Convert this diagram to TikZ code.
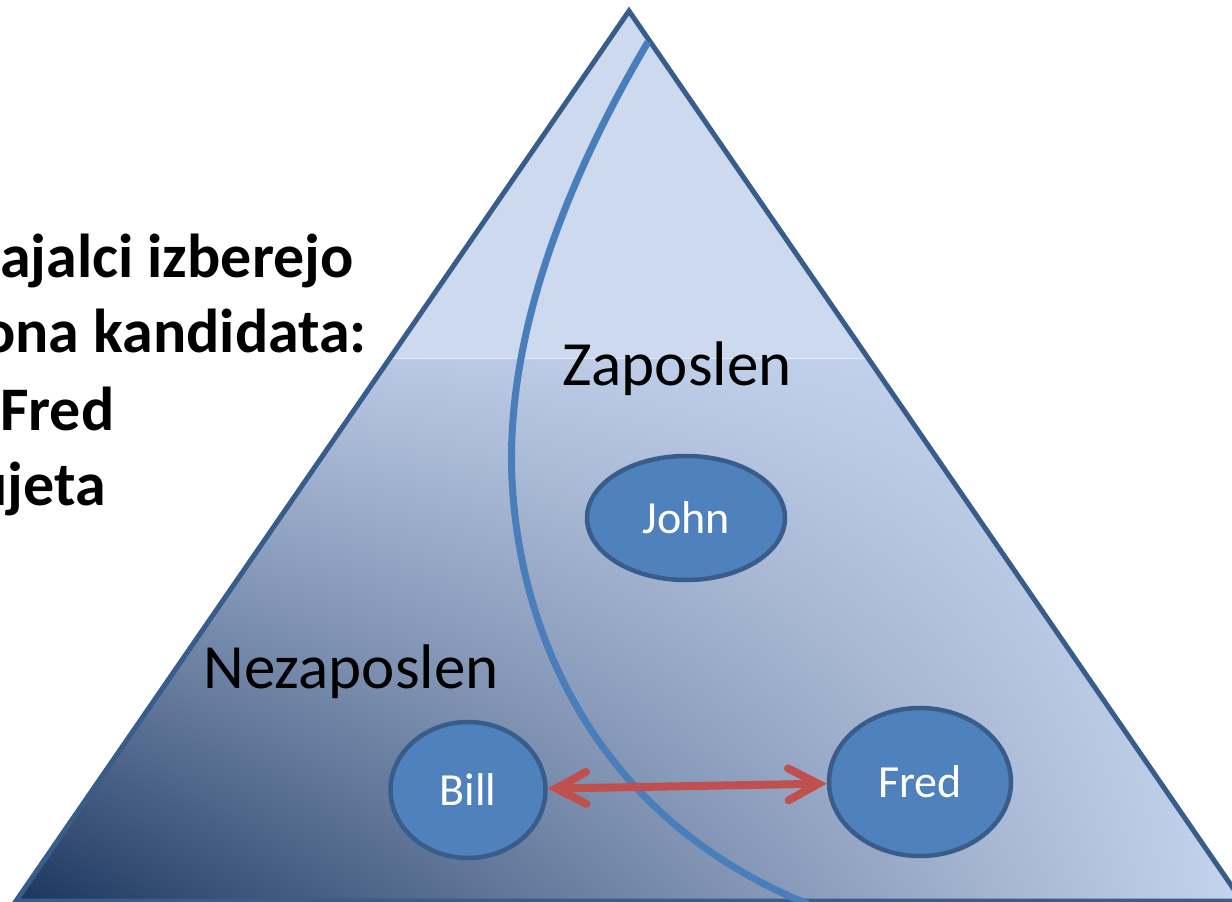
\documentclass[tikz,border=0pt]{standalone}
\usepackage{fontspec}
\setmainfont{Carlito}
\usepackage{tikz}
\usetikzlibrary{shapes.geometric, arrows.meta, positioning, shadings}
\definecolor{pyrline}{HTML}{385D8A}
\definecolor{pyrtop}{HTML}{CCD9EF}
\definecolor{shadeul}{HTML}{B2C2DF}
\definecolor{shadeur}{HTML}{C9D7F0}
\definecolor{shadell}{HTML}{1C365E}
\definecolor{shadelr}{HTML}{C6D4EE}
\definecolor{curveblue}{HTML}{4A7EBB}
\definecolor{personblue}{HTML}{4F81BD}
\definecolor{arrowred}{HTML}{C0504D}
\tikzstyle{person} = [ellipse, draw=pyrline, line width=4.5pt, fill=personblue, text=white, inner sep=0pt, font=\fontsize{46}{50}\selectfont]
\tikzstyle{label} = [inner sep=0pt, anchor=base, font=\fontsize{63}{70}\selectfont]
\tikzstyle{side} = [inner sep=0pt, anchor=base west, font=\fontsize{62}{70}\selectfont\bfseries]
\tikzstyle{arrow} = [line width=8pt, draw=arrowred, line cap=round, {Straight Barb[length=30pt,width=32pt,line cap=round]}-{Straight Barb[length=30pt,width=32pt,line cap=round]}]

\begin{document}
\begin{tikzpicture}[x=1pt, y=-1pt]
    \useasboundingbox (0,0) rectangle (1232,902);
    \clip (0,0) rectangle (1232,902);

    % pyramid
    \coordinate (apex) at (629,11);
    \coordinate (bl) at (16,901);
    \coordinate (br) at (1242,901);
    \fill[pyrtop] (apex) -- (bl) -- (br) -- cycle;
    \shade[upper left=shadeul, upper right=shadeur, lower left=shadell, lower right=shadelr]
        (391,358) -- (867,358) -- (br) -- (bl) -- cycle;
    \draw[white, opacity=0.6, line width=0.8pt] (391,358) -- (867,358);
    \draw[pyrline, line width=5pt, line join=miter] (apex) -- (bl) -- (br) -- cycle;

    % dividing curve
    \coordinate (ctop) at (648,42);
    \coordinate (cbot) at (808,904);
    \draw[curveblue, line width=7pt] (ctop) .. controls (572,170) and (505,330) .. (512,480)
        .. controls (520,640) and (600,820) .. (cbot);

    % labels
    \node (zap) [label] at (677,385) {Zaposlen};
    \node (nezap) [label] at (351,688) {Nezaposlen};

    \node (john) [person, minimum width=198pt, minimum height=124pt] at (686,518) {John};
    \node (bill) [person, minimum width=155pt, minimum height=136pt] at (468,790) {Bill};
    \node (fred) [person, minimum width=182pt, minimum height=148pt] at (920,782) {Fred};

    \draw [arrow] (bill) -- (fred);

    % text on the left, cut at the edge
    \node (l1) [side] at (0,277) {ajalci izberejo};
    \node (l2) [side, anchor=base east] at (367,352) {ona kandidata:};
    \node (l3) [side] at (0,430) {Fred};
    \node (l4) [side, anchor=base east] at (106,505) {ujeta};
\end{tikzpicture}
\end{document}
